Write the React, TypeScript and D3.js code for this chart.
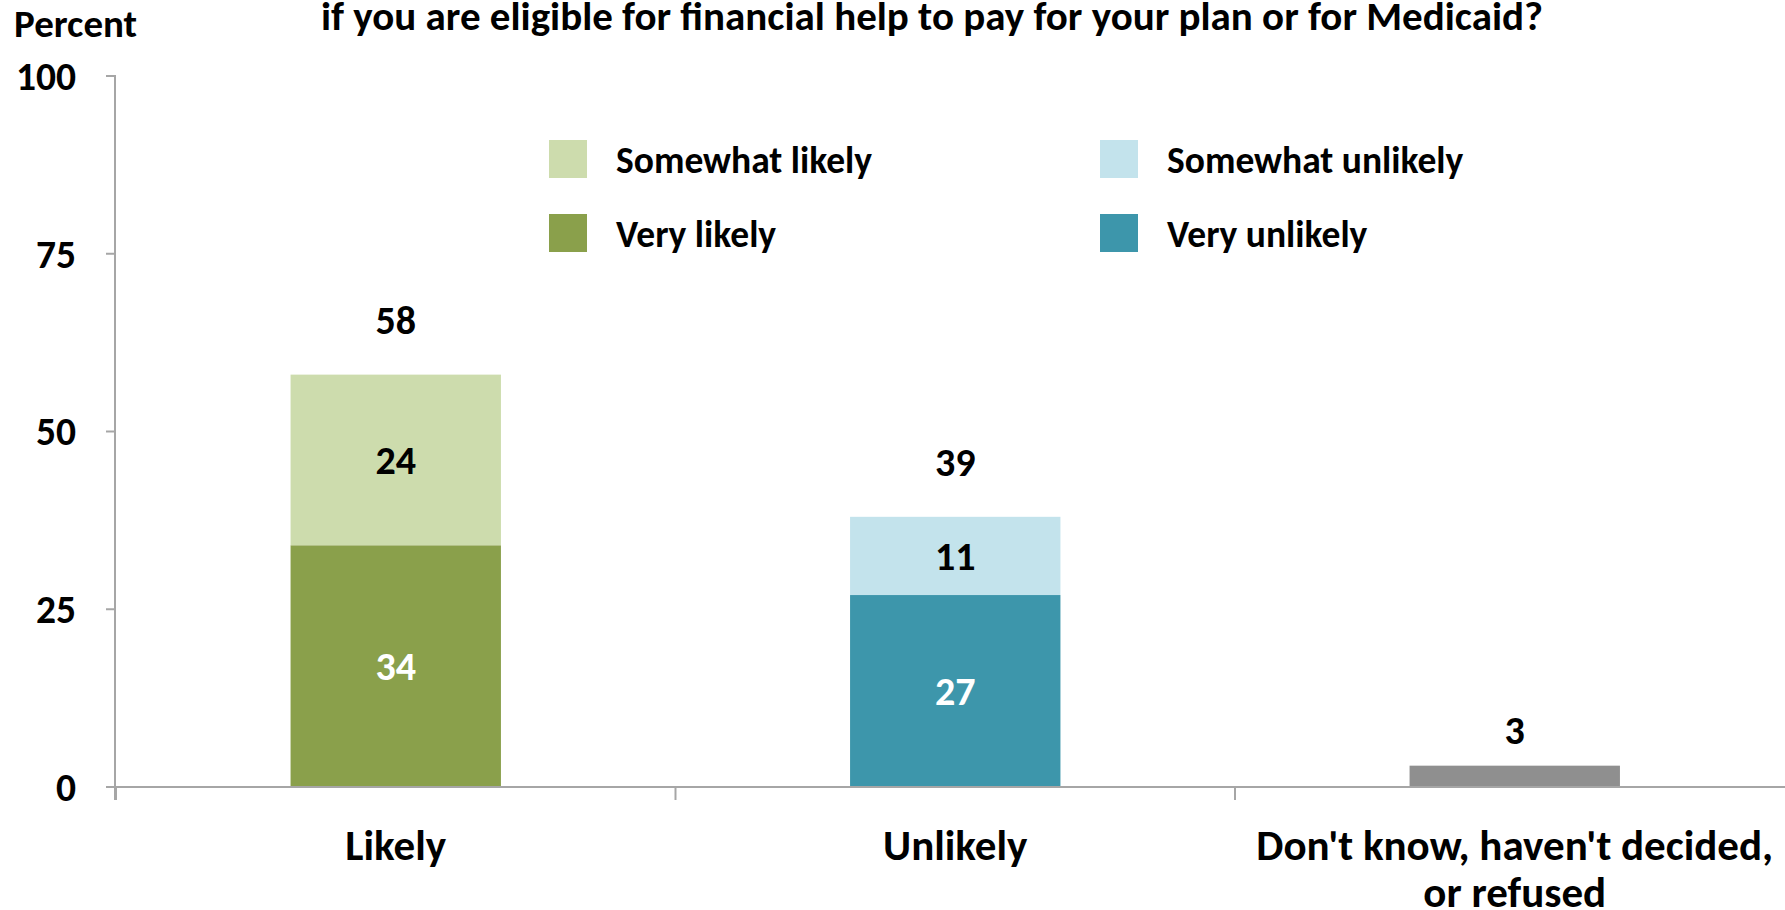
import React from "react";
import * as d3 from "d3";

const categories = ["Likely", "Unlikely", "Don't know, haven't decided, or refused"];
const categoryLines = [["Likely"], ["Unlikely"], ["Don't know, haven't decided,", "or refused"]];
const veryValues = [34, 27, 0];
const somewhatValues = [24, 11, 0];
const otherValues = [0, 0, 3];
const totalLabels = ["58", "39", "3"];
const yTicks = [0, 25, 50, 75, 100];
const veryColors = ["#8aa04b", "#3d96ab", "#8f8f8f"];
const somewhatColors = ["#cddcad", "#c3e3ec", "#8f8f8f"];
const legendItems = [
  { label: "Somewhat likely", color: "#cddcad", col: 0, row: 0 },
  { label: "Very likely", color: "#8aa04b", col: 0, row: 1 },
  { label: "Somewhat unlikely", color: "#c3e3ec", col: 1, row: 0 },
  { label: "Very unlikely", color: "#3d96ab", col: 1, row: 1 },
];
const titleText = "if you are eligible for financial help to pay for your plan or for Medicaid?";

const FONT = "Carlito, Calibri, Lato, 'Open Sans', sans-serif";

export default function App() {
  const W = 1785, H = 910;
  const x0 = 116, bandW = 559.5;
  const x = d3.scaleBand<string>().domain(categories).range([x0, x0 + bandW * 3]).padding(0);
  const y = d3.scaleLinear().domain([0, 100]).range([787, 76]);
  const barW = x.bandwidth() * 0.376;
  const axisColor = "#a6a6a6";

  const rows = categories.map((c, i) => ({ cat: c, very: veryValues[i], somewhat: somewhatValues[i], other: otherValues[i] }));
  const stack = d3.stack<any>().keys(["very", "somewhat", "other"]);
  const series = stack(rows);

  return (
    <svg width={W} height={H} style={{ position: "absolute", left: 0, top: 0, background: "#fff" }}>
      <text x={932} y={30} textAnchor="middle" fontFamily={FONT} fontWeight="bold" fontSize={41} fill="#000">{titleText}</text>
      <text x={14} y={37} fontFamily={FONT} fontWeight="bold" fontSize={39} fill="#000">Percent</text>

      {/* y axis */}
      <line x1={x0 - 1} x2={x0 - 1} y1={y(100)} y2={800} stroke={axisColor} strokeWidth={2} />
      {yTicks.map((t) => (
        <g key={t}>
          <line x1={106} x2={x0} y1={y(t)} y2={y(t)} stroke={axisColor} strokeWidth={2} />
          <text x={76} y={y(t)} dy="0.35em" textAnchor="end" fontFamily={FONT} fontWeight="bold" fontSize={39.5} fill="#000">{t}</text>
        </g>
      ))}

      {/* bars */}
      {series.map((s, si) =>
        s.map((d, i) => {
          const v = d[1] - d[0];
          if (v <= 0) return null;
          const cx = (x(categories[i]) as number) + x.bandwidth() / 2;
          const fill = si === 0 ? veryColors[i] : si === 1 ? somewhatColors[i] : "#8f8f8f";
          return (
            <rect key={`${si}-${i}`} x={cx - barW / 2} width={barW} y={y(d[1])} height={y(d[0]) - y(d[1])} fill={fill} />
          );
        })
      )}

      {/* segment labels */}
      {series.slice(0, 2).map((s, si) =>
        s.map((d, i) => {
          const v = d[1] - d[0];
          if (v <= 0) return null;
          const cx = (x(categories[i]) as number) + x.bandwidth() / 2;
          return (
            <text key={`l${si}-${i}`} x={cx} y={(y(d[0]) + y(d[1])) / 2} dy="0.35em" textAnchor="middle" fontFamily={FONT} fontWeight="bold" fontSize={40} fill={si === 0 ? "#fff" : "#000"}>{v}</text>
          );
        })
      )}

      {/* total labels */}
      {categories.map((c, i) => {
        const top = veryValues[i] + somewhatValues[i] + otherValues[i];
        const stacked = somewhatValues[i] > 0;
        const cx = (x(c) as number) + x.bandwidth() / 2;
        return (
          <text key={`t${i}`} x={cx} y={y(top) - (stacked ? 55 : 36)} dy="0.35em" textAnchor="middle" fontFamily={FONT} fontWeight="bold" fontSize={40} fill="#000">{totalLabels[i]}</text>
        );
      })}

      {/* x axis */}
      <line x1={x0 - 1} x2={W} y1={y(0)} y2={y(0)} stroke={axisColor} strokeWidth={2} />
      {[0, 1, 2].map((i) => (
        <line key={`xt${i}`} x1={x0 + i * bandW} x2={x0 + i * bandW} y1={y(0)} y2={800} stroke={axisColor} strokeWidth={2} />
      ))}
      {categories.map((c, i) => {
        const cx = (x(c) as number) + x.bandwidth() / 2;
        return categoryLines[i].map((ln, li) => (
          <text key={`c${i}-${li}`} x={cx} y={845 + li * 46.5} dy="0.35em" textAnchor="middle" fontFamily={FONT} fontWeight="bold" fontSize={43} fill="#000">{ln}</text>
        ));
      })}

      {/* legend */}
      {legendItems.map((it) => {
        const sx = it.col === 0 ? 549 : 1100;
        const sy = it.row === 0 ? 140 : 214;
        return (
          <g key={it.label}>
            <rect x={sx} y={sy} width={38} height={38} fill={it.color} />
            <text x={sx + 67} y={sy + 20} dy="0.35em" fontFamily={FONT} fontWeight="bold" fontSize={37.5} fill="#000">{it.label}</text>
          </g>
        );
      })}
    </svg>
  );
}
